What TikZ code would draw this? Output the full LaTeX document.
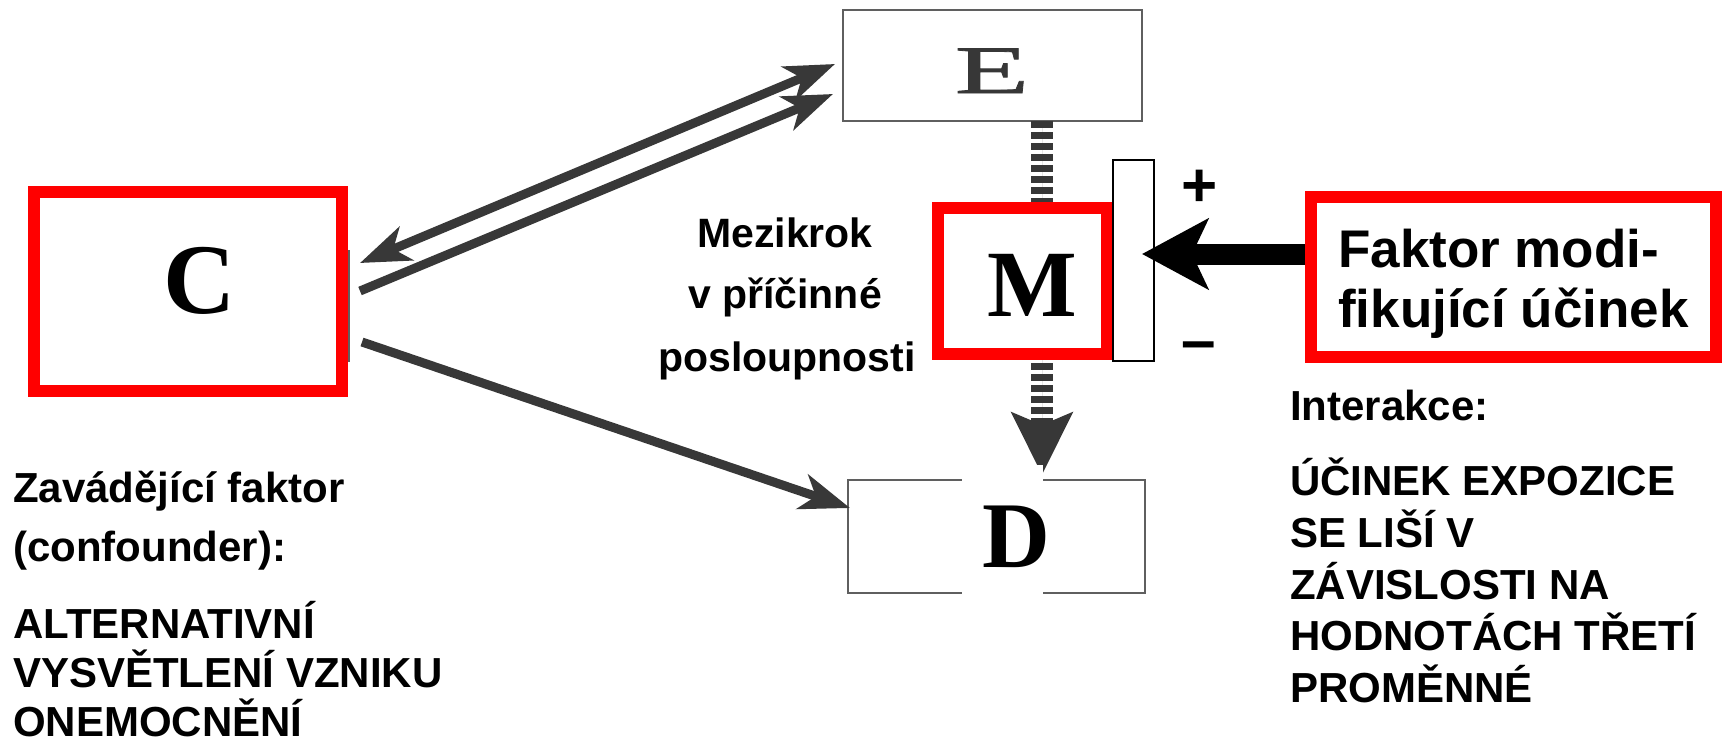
\documentclass[tikz,border=0pt]{standalone}
\usepackage{fontspec}
\setsansfont{Liberation Sans}
\setmainfont{Liberation Serif}
\newfontfamily\efont[FakeStretch=1.8,FakeBold=1.2]{Liberation Serif}
\usetikzlibrary{arrows.meta,calc}
\definecolor{agrey}{RGB}{56,56,56}
\definecolor{bgrey}{RGB}{95,95,95}
\definecolor{dgrey}{RGB}{55,55,55}
\begin{document}
\begin{tikzpicture}[x=1pt,y=-1pt,
  redbox/.style={draw=red, line width=12pt, fill=white, inner sep=0pt, outer sep=0pt},
  thinbox/.style={draw=bgrey, line width=1.6pt, fill=white, inner sep=0pt, outer sep=0pt},
  garrow/.style={draw=agrey, fill=agrey, line width=9pt},
  letter/.style={anchor=base, inner sep=0pt, font=\rmfamily\bfseries\fontsize{95}{95}\selectfont},
  lbl/.style={anchor=base west, inner sep=0pt, font=\sffamily\bfseries\fontsize{42}{50}\selectfont},
  midlbl/.style={anchor=base, inner sep=0pt, font=\sffamily\bfseries\fontsize{41}{50}\selectfont},
  biglbl/.style={anchor=base west, inner sep=0pt, font=\sffamily\bfseries\fontsize{53}{60}\selectfont},
  sign/.style={inner sep=0pt, font=\sffamily\bfseries\fontsize{62}{62}\selectfont}
]
\useasboundingbox (0,0) rectangle (1724,747);

% boxes E and D (thin)
\node[thinbox, minimum width=299pt, minimum height=111pt] (E) at (992.5,65.5) {};
\node[anchor=base, inner sep=0pt, text=dgrey, font=\efont\fontsize{68}{68}\selectfont] (El) at (992,93) {E};
\node[thinbox, minimum width=297pt, minimum height=113pt] (D) at (996.5,536.5) {};

% C box
\draw[bgrey, line width=1.5pt] (349,250) -- (349,362);
\node[redbox, minimum width=308pt, minimum height=199pt] (C) at (187.5,291.5) {};
\node[letter, font=\rmfamily\bfseries\fontsize{100}{100}\selectfont] (Cl) at (200,313) {C};

% arrows C <-> E, C -> D
\draw[garrow, {Stealth[length=50pt,width=36pt,inset=14pt]}-{Stealth[length=50pt,width=36pt,inset=14pt]}]
  ($(C.east)+(18.5,-28.5)$) -- ($(E.west)+(-8,-1.5)$);
\draw[garrow, -{Stealth[length=50pt,width=36pt,inset=14pt]}]
  ($(C.east)+(18.5,-0.5)$) -- ($(E.west)+(-10,28.5)$);
\draw[garrow, -{Stealth[length=50pt,width=36pt,inset=14pt]}]
  ($(C.east)+(20.5,50.5)$) -- ($(D.north west)+(2,28)$);

% vertical dashed arrow E -> D
\coordinate (vt) at (1042,475);
\draw[draw=dgrey, fill=dgrey, line width=22pt, dash pattern=on 6.5pt off 4.5pt,
  -{Stealth[length=62pt,width=60pt,inset=12pt]}] (E.south -| vt) -- (vt);

% D white patch and letter
\node[fill=white, inner sep=0pt, minimum width=81pt, minimum height=130pt] (Dw) at (1002.5,530) {};
\node[letter, font=\rmfamily\bfseries\fontsize{94}{94}\selectfont] (Dl) at (1016,567) {D};

% M box, bar
\node[redbox, minimum width=169pt, minimum height=146pt] (M) at (1022.5,281) {};
\node[letter] (Ml) at (1032,316) {M};
\node[draw=black, line width=1.6pt, fill=white, inner sep=0pt, outer sep=0pt,
  minimum width=41pt, minimum height=201pt] (bar) at (1133.5,260.5) {};
\node[sign] (plus) at (1200,188) {+};
\node[sign] (minus) at (1199,352) {–};

% modifying factor box
\node[redbox, minimum width=405pt, minimum height=160pt] (F) at (1513.5,277) {};
\node[biglbl] (F1) at (1338,267) {Faktor modi-};
\node[biglbl] (F2) at (1338,327) {fikující účinek};
\coordinate (ftip) at (1142,254);
\draw[black, fill=black, line width=21pt, -{Stealth[length=66pt,width=70pt,inset=16pt]}]
  ([xshift=-6pt]F.west |- ftip) -- (ftip);

% middle text
\node[midlbl] (m1) at (785,247) {Mezikrok};
\node[midlbl] (m2) at (785,308) {v příčinné};
\node[midlbl] (m3) at (787,371) {posloupnosti};

% left text
\node[lbl] (l1) at (13,502) {Zavádějící faktor};
\node[lbl] (l2) at (13,561) {(confounder):};
\node[lbl] (l3) at (13,638) {ALTERNATIVNÍ};
\node[lbl] (l4) at (13,687) {VYSVĚTLENÍ VZNIKU};
\node[lbl] (l5) at (13,736) {ONEMOCNĚNÍ};

% right text
\node[lbl] (r1) at (1290,420) {Interakce:};
\node[lbl] (r2) at (1290,495) {ÚČINEK EXPOZICE};
\node[lbl] (r3) at (1290,547) {SE LIŠÍ V};
\node[lbl] (r4) at (1290,599) {ZÁVISLOSTI NA};
\node[lbl] (r5) at (1290,650) {HODNOTÁCH TŘETÍ};
\node[lbl] (r6) at (1290,702) {PROMĚNNÉ};
\end{tikzpicture}
\end{document}
